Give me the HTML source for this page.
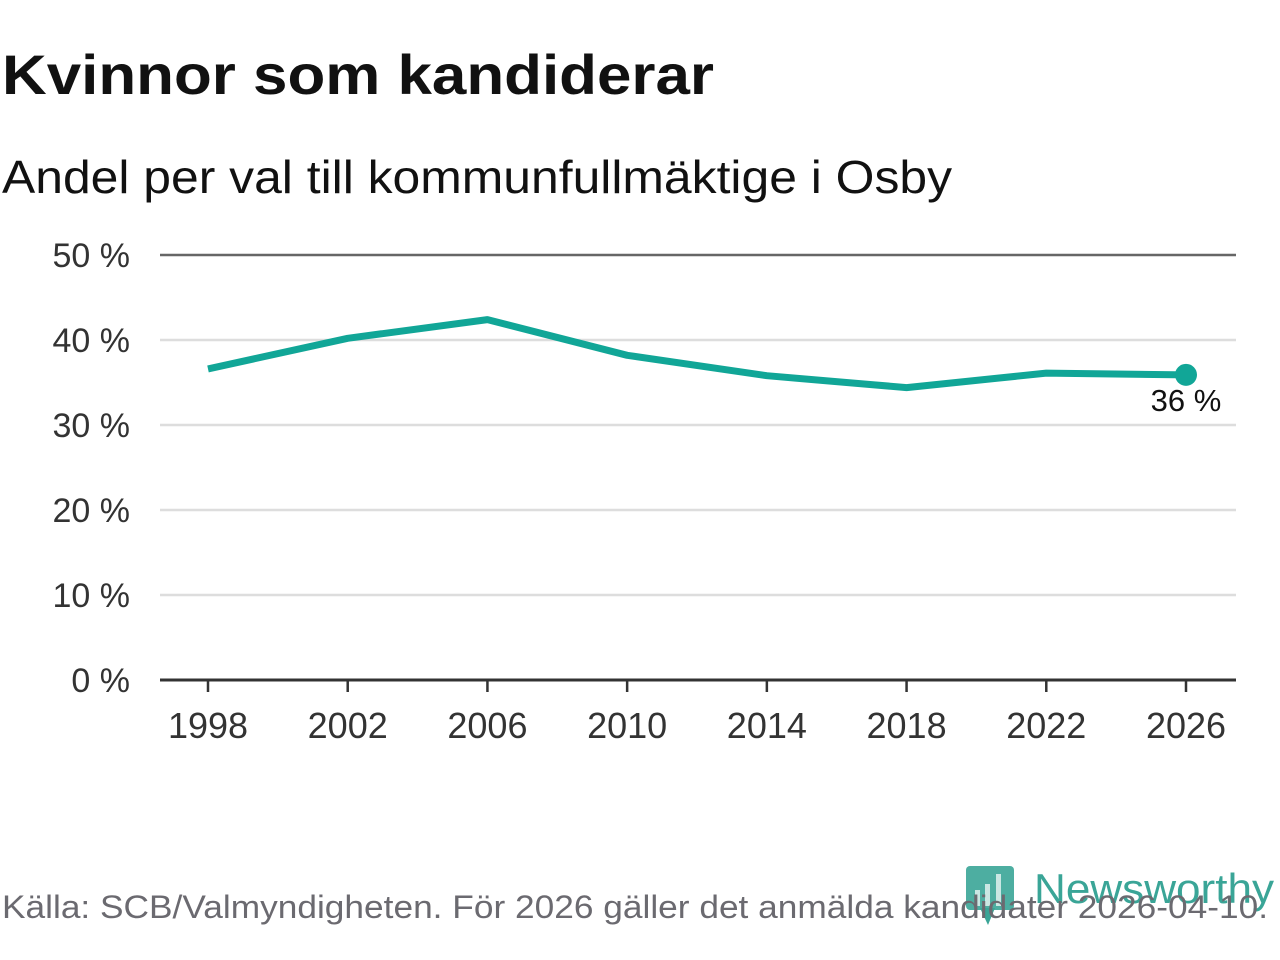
<!DOCTYPE html>
<html><head><meta charset="utf-8"><style>
body{margin:0;width:1280px;height:960px;background:#fff;font-family:"Liberation Sans",sans-serif;overflow:hidden;position:relative}
</style></head><body>
<svg width="1280" height="960" style="position:absolute;left:0;top:0">
<text x="2" y="94" font-size="56" font-weight="bold" fill="#111" textLength="712" lengthAdjust="spacingAndGlyphs">Kvinnor som kandiderar</text>
<text x="2" y="193" font-size="46" fill="#111" textLength="950" lengthAdjust="spacingAndGlyphs">Andel per val till kommunfullmäktige i Osby</text>
<g id="grid"></g>
<g id="xaxis"></g>
<g id="series"></g>
<g>
<rect x="966" y="866" width="48" height="44" rx="4" fill="#3aa597" opacity="0.9"/>
<polygon points="980,908 995,908 988,925" fill="#3aa597"/>
<rect x="975" y="890" width="5" height="16" fill="#fff" opacity="0.7"/>
<rect x="985" y="884" width="5" height="22" fill="#fff" opacity="0.7"/>
<rect x="996" y="874" width="5" height="32" fill="#fff" opacity="0.7"/>
<text x="1034" y="903" font-size="42" fill="#3aa597" textLength="240" lengthAdjust="spacingAndGlyphs">Newsworthy</text>
</g>
<text x="2" y="918" font-size="32" fill="#6b6a70" textLength="1266" lengthAdjust="spacingAndGlyphs">Källa: SCB/Valmyndigheten. För 2026 gäller det anmälda kandidater 2026-04-10.</text>
</svg>
<script>
const years=[1998,2002,2006,2010,2014,2018,2022,2026];
const values=[36.6,40.2,42.4,38.2,35.8,34.4,36.1,35.9];
const yTicks=[0,10,20,30,40,50];
const ns="http://www.w3.org/2000/svg";
function X(yr){return 208+(yr-1998)*(1186-208)/28;}
function Y(v){return 680-v*8.5;}
function mk(t,a,p,txt){const e=document.createElementNS(ns,t);for(const k in a)e.setAttribute(k,a[k]);if(txt!==undefined)e.textContent=txt;p.appendChild(e);return e;}
const g=document.getElementById('grid');
yTicks.forEach(v=>{
  const l=mk('line',{x1:160,x2:1236,y1:Y(v),y2:Y(v),stroke:v===50?'#666':(v===0?'#333':'#ddd'),'stroke-width':v===0?3:2.5},g);
  
  
  const t=mk('text',{x:130,y:Y(v)+12,'font-size':34,fill:'#333','text-anchor':'end'},g,v+' %');
  
  
});
const xa=document.getElementById('xaxis');
years.forEach(yr=>{
  const l=mk('line',{x1:X(yr),x2:X(yr),y1:680,y2:692,stroke:'#333','stroke-width':2.5},xa);
  
  
  const t=mk('text',{x:X(yr),y:738,'font-size':36,fill:'#333','text-anchor':'middle'},xa,String(yr));
  
  
});
const s=document.getElementById('series');
const pl=mk('polyline',{points:years.map((yr,i)=>X(yr)+','+Y(values[i])).join(' '),fill:'none',stroke:'#11a697','stroke-width':7,'stroke-linejoin':'round'},s);


const n=years.length-1;
const c=mk('circle',{cx:X(years[n]),cy:Y(values[n]),r:11,fill:'#11a697'},s);


const lb=mk('text',{x:X(years[n]),y:Y(values[n])+36,'font-size':31,fill:'#111','text-anchor':'middle'},s,Math.round(values[n])+' %');


</script>
</body></html>
